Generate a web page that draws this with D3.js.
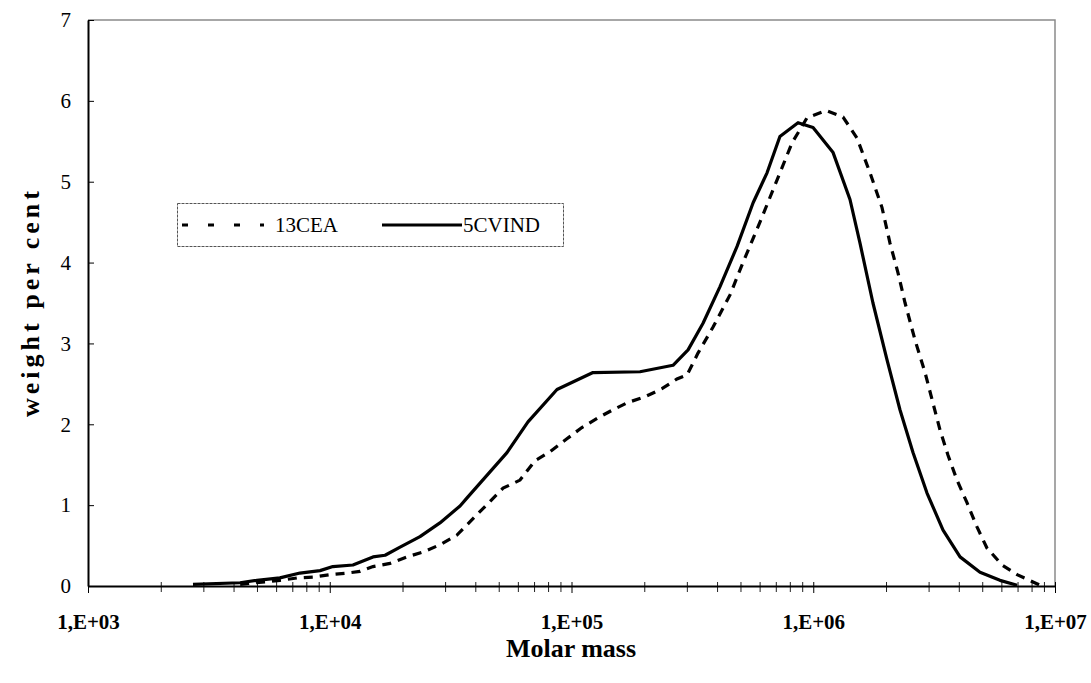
<!DOCTYPE html>
<html>
<head>
<meta charset="utf-8">
<script src="https://cdn.jsdelivr.net/npm/d3@7"></script>
<style>
  body { margin: 0; background: #fff; }
  svg { display: block; font-family: "Liberation Serif", "Times New Roman", serif; }
</style>
</head>
<body>
<svg width="1091" height="683"></svg>
<script>
// molar mass (g/mol) and weight percent
var massCEA = [4260, 6220, 7330, 8540, 10030, 11780, 13330, 15100, 17750, 20880, 24320, 28570, 33580,
  52120, 61240, 70630, 81450, 95720, 110400, 128700, 148500, 171300, 201400, 236700, 273000, 300500,
  333600, 384600, 452600, 512000, 602000, 708000, 817000, 942000, 1129000, 1328000, 1517000, 1717000,
  1925000, 2077000, 2243000, 2398000, 2637000, 2900000, 3129000, 3344000, 3607000, 3932000, 4325000,
  4757000, 5230000, 6040000, 6970000, 8110000, 8830000];
var weightCEA = [0.02, 0.07, 0.10, 0.11, 0.14, 0.16, 0.18, 0.24, 0.28, 0.36, 0.42, 0.51, 0.63,
  1.21, 1.31, 1.55, 1.66, 1.82, 1.96, 2.08, 2.18, 2.27, 2.34, 2.44, 2.56, 2.61,
  2.88, 3.20, 3.60, 4.00, 4.50, 5.02, 5.48, 5.79, 5.88, 5.80, 5.54, 5.11,
  4.68, 4.24, 3.87, 3.50, 3.04, 2.64, 2.26, 1.93, 1.62, 1.31, 1.03,
  0.73, 0.47, 0.26, 0.14, 0.05, 0.00];

var massVIND = [2718, 4256, 5000, 6220, 7530, 9120, 10300, 12470, 15100, 16940, 19540, 23620, 28560,
  34590, 36980, 54080, 66070, 87090, 122700, 192000, 263000, 303500, 350000, 411000, 484000, 564000,
  644000, 728000, 865000, 998000, 1208000, 1419000, 1561000, 1766000, 2018000, 2284000, 2586000,
  2955000, 3443000, 4048000, 4895000, 5920000, 6970000];
var weightVIND = [0.02, 0.04, 0.07, 0.10, 0.16, 0.19, 0.24, 0.26, 0.36, 0.38, 0.48, 0.61, 0.78,
  0.99, 1.09, 1.65, 2.03, 2.43, 2.64, 2.65, 2.73, 2.92, 3.25, 3.70, 4.20, 4.74,
  5.11, 5.56, 5.73, 5.67, 5.36, 4.78, 4.24, 3.50, 2.80, 2.18, 1.65,
  1.15, 0.69, 0.36, 0.17, 0.07, 0.01];

var seriesNames = ['13CEA', '5CVIND'];
var xMajor = [1e3, 1e4, 1e5, 1e6, 1e7];
var xLabels = ['1,E+03', '1,E+04', '1,E+05', '1,E+06', '1,E+07'];
var yTicks = [0, 1, 2, 3, 4, 5, 6, 7];

var svg = d3.select('svg');

//plot box edges (window.top is reserved, so no plain "top")
var plotL = 88, plotR = 1055, plotT = 20, plotB = 586;

//log scale for molar mass, linear for weight percent
var scaleX = d3.scaleLog().domain([1e3, 1e7]).range([plotL, plotR]);
var scaleY = d3.scaleLinear().domain([0, 7]).range([plotB, plotT]);

//minor ticks 2..9 inside every decade
var xMinor = [];
xMajor.slice(0, 4).forEach(function(d){
    for (var k = 2; k <= 9; k++) xMinor.push(d * k);
});

//top and right frame, grey
svg.append('path')
    .attr('d', 'M' + plotL + ',' + plotT + 'H' + plotR + 'V' + plotB)
    .attr('fill', 'none')
    .attr('stroke', '#8a8a8a')
    .attr('stroke-width', 1.5);

// x axis
var gx = svg.append('g')
    .attr('transform', 'translate(0,' + plotB + ')');
gx.append('g')
    .call(d3.axisBottom(scaleX).tickValues(xMinor).tickSize(6).tickFormat(''))
    .call(function(g){ g.select('.domain').remove(); })
    .selectAll('.tick line').attr('y1', -4).attr('stroke', '#222');
gx.append('g')
    .call(d3.axisBottom(scaleX).tickValues(xMajor).tickSize(7).tickSizeOuter(0)
        .tickFormat(function(d, i){ return xLabels[i]; }))
    .call(function(g){
        g.select('.domain').attr('stroke', '#000').attr('stroke-width', 2);
        g.selectAll('.tick line').attr('y1', -4).attr('stroke', '#000');
        g.selectAll('.tick text')
            .attr('y', 28)
            .attr('font-family', 'Liberation Serif')
            .attr('font-weight', 'bold')
            .attr('font-size', 21)
            .attr('fill', '#000');
    });

// y axis
svg.append('g')
    .attr('transform', 'translate(' + plotL + ',0)')
    .call(d3.axisLeft(scaleY).tickValues(yTicks).tickSize(5).tickSizeOuter(0).tickFormat(d3.format('d')))
    .call(function(g){
        g.select('.domain').attr('stroke', '#000').attr('stroke-width', 2);
        g.selectAll('.tick line').attr('x2', 6).attr('stroke', '#000');
        g.selectAll('.tick text')
            .attr('x', -17)
            .attr('font-family', 'Liberation Serif')
            .attr('font-size', 21)
            .attr('fill', '#000');
    });

//axis titles
svg.append('text')
    .text('Molar mass')
    .attr('x', 571)
    .attr('y', 657)
    .attr('text-anchor', 'middle')
    .attr('font-weight', 'bold')
    .attr('font-size', 26);

svg.append('text')
    .text('weight  per cent')
    .attr('transform', 'translate(39,302)rotate(-90)')
    .attr('text-anchor', 'middle')
    .attr('font-weight', 'bold')
    .attr('font-size', 26)
    .attr('letter-spacing', 4);

//curves
var line = d3.line()
    .x(function(d){ return scaleX(d[0]); })
    .y(function(d){ return scaleY(d[1]); });

var dataCEA = d3.zip(massCEA, weightCEA);
var dataVIND = d3.zip(massVIND, weightVIND);

svg.append('path')
    .datum(dataVIND)
    .attr('d', line)
    .attr('fill', 'none')
    .attr('stroke', '#000')
    .attr('stroke-width', 3.2)
    .attr('stroke-linejoin', 'round');

svg.append('path')
    .datum(dataCEA)
    .attr('d', line)
    .attr('fill', 'none')
    .attr('stroke', '#000')
    .attr('stroke-width', 3.2)
    .attr('stroke-dasharray', '9,7');

//legend
var legend = svg.append('g');
legend.append('rect')
    .attr('x', 177.5).attr('y', 203.5)
    .attr('width', 386).attr('height', 43)
    .attr('fill', '#fff')
    .attr('stroke', '#555')
    .attr('stroke-width', 1)
    .attr('stroke-dasharray', '3,1');

legend.append('line')
    .attr('x1', 182).attr('x2', 264).attr('y1', 225).attr('y2', 225)
    .attr('stroke', '#000').attr('stroke-width', 3.2)
    .attr('stroke-dasharray', '6,20');
legend.append('text')
    .text(seriesNames[0])
    .attr('x', 275).attr('y', 232)
    .attr('font-size', 21);

legend.append('line')
    .attr('x1', 382).attr('x2', 462).attr('y1', 225).attr('y2', 225)
    .attr('stroke', '#000').attr('stroke-width', 3.2);
legend.append('text')
    .text(seriesNames[1])
    .attr('x', 463).attr('y', 232)
    .attr('font-size', 21);
</script>
</body>
</html>
